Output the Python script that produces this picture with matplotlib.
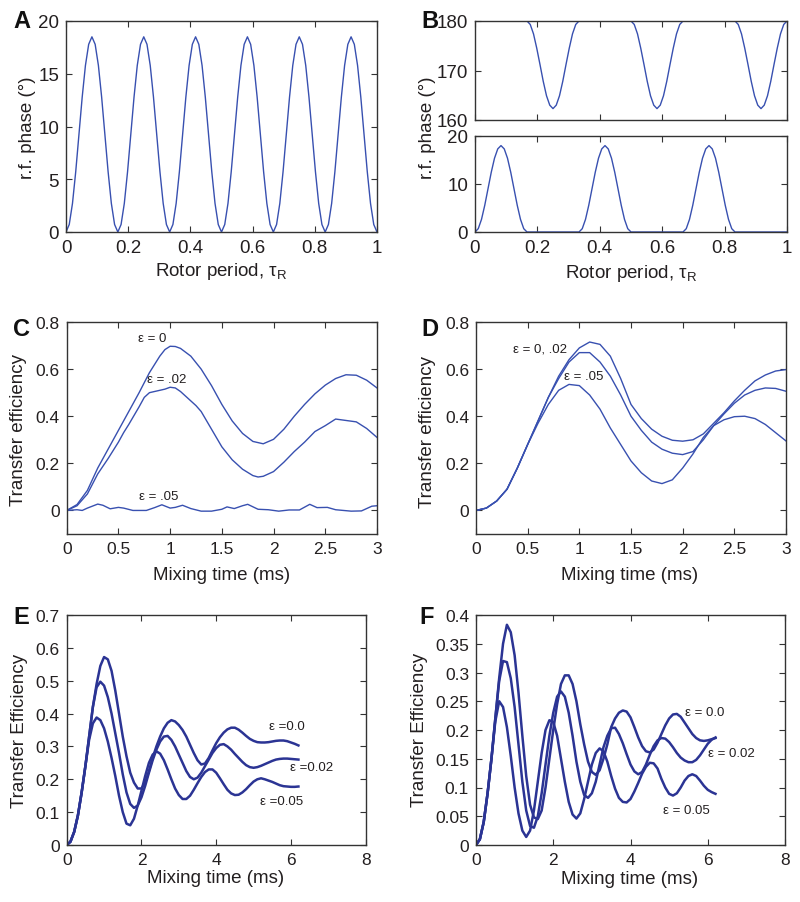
import numpy as np
import matplotlib
matplotlib.use("Agg")
import matplotlib.pyplot as plt
from matplotlib.ticker import FuncFormatter

plt.rcParams['font.family'] = ['Liberation Sans', 'DejaVu Sans']
plt.rcParams['mathtext.fontset'] = 'custom'
plt.rcParams['mathtext.rm'] = 'Liberation Sans'
plt.rcParams['mathtext.it'] = 'Liberation Sans:italic'

# ---------------- data ----------------
# Panel A: r.f. phase over one rotor period (16 samples per 1/6 period)
a_rotor = np.linspace(0, 1, 97)
a_phase = [0, 0.71, 2.71, 5.71, 9.25, 12.79, 15.79, 17.79, 18.5, 17.79, 15.79, 12.79, 9.25, 5.71, 2.71, 0.71,
           0, 0.71, 2.71, 5.71, 9.25, 12.79, 15.79, 17.79, 18.5, 17.79, 15.79, 12.79, 9.25, 5.71, 2.71, 0.71,
           0, 0.71, 2.71, 5.71, 9.25, 12.79, 15.79, 17.79, 18.5, 17.79, 15.79, 12.79, 9.25, 5.71, 2.71, 0.71,
           0, 0.71, 2.71, 5.71, 9.25, 12.79, 15.79, 17.79, 18.5, 17.79, 15.79, 12.79, 9.25, 5.71, 2.71, 0.71,
           0, 0.71, 2.71, 5.71, 9.25, 12.79, 15.79, 17.79, 18.5, 17.79, 15.79, 12.79, 9.25, 5.71, 2.71, 0.71,
           0, 0.71, 2.71, 5.71, 9.25, 12.79, 15.79, 17.79, 18.5, 17.79, 15.79, 12.79, 9.25, 5.71, 2.71, 0.71,
           0]

# Panel B: upper (near 180) and lower (near 0) phase branches
b_rotor = np.linspace(0, 1, 97)
b_upper = [180, 180, 180, 180, 180, 180, 180, 180, 180, 180, 180, 180, 180, 180, 180, 180,
           180, 179.3, 177.4, 174.5, 171.2, 167.8, 164.9, 163.0, 162.3, 163.0, 164.9, 167.8, 171.2, 174.5, 177.4, 179.3,
           180, 180, 180, 180, 180, 180, 180, 180, 180, 180, 180, 180, 180, 180, 180, 180,
           180, 179.3, 177.4, 174.5, 171.2, 167.8, 164.9, 163.0, 162.3, 163.0, 164.9, 167.8, 171.2, 174.5, 177.4, 179.3,
           180, 180, 180, 180, 180, 180, 180, 180, 180, 180, 180, 180, 180, 180, 180, 180,
           180, 179.3, 177.4, 174.5, 171.2, 167.8, 164.9, 163.0, 162.3, 163.0, 164.9, 167.8, 171.2, 174.5, 177.4, 179.3,
           180]
b_lower = [0, 0.69, 2.63, 5.56, 9.0, 12.44, 15.37, 17.31, 18.0, 17.31, 15.37, 12.44, 9.0, 5.56, 2.63, 0.69,
           0, 0, 0, 0, 0, 0, 0, 0, 0, 0, 0, 0, 0, 0, 0, 0,
           0, 0.69, 2.63, 5.56, 9.0, 12.44, 15.37, 17.31, 18.0, 17.31, 15.37, 12.44, 9.0, 5.56, 2.63, 0.69,
           0, 0, 0, 0, 0, 0, 0, 0, 0, 0, 0, 0, 0, 0, 0, 0,
           0, 0.69, 2.63, 5.56, 9.0, 12.44, 15.37, 17.31, 18.0, 17.31, 15.37, 12.44, 9.0, 5.56, 2.63, 0.69,
           0, 0, 0, 0, 0, 0, 0, 0, 0, 0, 0, 0, 0, 0, 0, 0,
           0]

# Panel C
c_t0 = [0, 0.1, 0.2, 0.3, 0.4, 0.5, 0.6, 0.7, 0.8, 0.9, 0.95, 1.0, 1.05, 1.1, 1.2, 1.3, 1.4, 1.5, 1.6, 1.7,
        1.8, 1.9, 2.0, 2.1, 2.2, 2.3, 2.4, 2.5, 2.6, 2.7, 2.8, 2.9, 3.0]
c_eps0 = [0, 0.025, 0.085, 0.18, 0.26, 0.34, 0.42, 0.50, 0.585, 0.655, 0.683, 0.697, 0.696, 0.688, 0.655,
          0.60, 0.53, 0.45, 0.38, 0.327, 0.293, 0.283, 0.302, 0.345, 0.4, 0.45, 0.495, 0.532, 0.56, 0.576,
          0.574, 0.553, 0.52]
c_t2 = [0, 0.1, 0.2, 0.3, 0.4, 0.5, 0.55, 0.6, 0.7, 0.75, 0.8, 0.9, 0.95, 1.0, 1.05, 1.1, 1.2, 1.25, 1.3,
        1.4, 1.5, 1.6, 1.7, 1.8, 1.85, 1.9, 2.0, 2.1, 2.2, 2.3, 2.4, 2.5, 2.6, 2.7, 2.8, 2.9, 3.0]
c_eps2 = [0, 0.02, 0.07, 0.155, 0.22, 0.29, 0.33, 0.365, 0.44, 0.48, 0.50, 0.51, 0.515, 0.523, 0.52, 0.505,
          0.465, 0.445, 0.42, 0.345, 0.27, 0.215, 0.175, 0.148, 0.142, 0.145, 0.165, 0.205, 0.25, 0.29,
          0.335, 0.36, 0.388, 0.382, 0.376, 0.348, 0.31]
c_t5 = [0, 0.1, 0.15, 0.2, 0.3, 0.35, 0.42, 0.5, 0.55, 0.64, 0.77, 0.85, 0.92, 1.0, 1.05, 1.12, 1.2, 1.3,
        1.4, 1.5, 1.55, 1.62, 1.7, 1.75, 1.85, 1.95, 2.05, 2.15, 2.25, 2.35, 2.42, 2.52, 2.6, 2.75, 2.85,
        2.95, 3.0]
c_eps5 = [0, 0.003, 0.0, 0.01, 0.027, 0.022, 0.007, 0.013, 0.01, 0.0, 0.0, 0.012, 0.024, 0.01, 0.013,
          0.022, 0.008, -0.003, -0.003, 0.005, 0.015, 0.008, 0.02, 0.026, 0.005, 0.003, -0.003, 0.002,
          0.002, 0.026, 0.012, 0.013, 0.003, -0.003, -0.002, 0.018, 0.02]

# Panel D
d_t = [0, 0.1, 0.2, 0.3, 0.4, 0.5, 0.6, 0.7, 0.8, 0.9, 1.0, 1.1, 1.2, 1.3, 1.4, 1.5, 1.6, 1.7, 1.8, 1.9,
       2.0, 2.1, 2.2, 2.3, 2.4, 2.5, 2.6, 2.7, 2.8, 2.9, 3.0]
d_eps0 = [0, 0.01, 0.04, 0.09, 0.18, 0.28, 0.38, 0.48, 0.57, 0.64, 0.69, 0.715, 0.705, 0.655, 0.56, 0.45,
          0.39, 0.345, 0.315, 0.298, 0.294, 0.30, 0.325, 0.37, 0.415, 0.465, 0.51, 0.55, 0.575, 0.592, 0.598]
d_eps2 = [0, 0.01, 0.04, 0.09, 0.18, 0.28, 0.38, 0.48, 0.56, 0.63, 0.67, 0.67, 0.63, 0.57, 0.49, 0.40,
          0.34, 0.29, 0.26, 0.243, 0.237, 0.25, 0.30, 0.36, 0.41, 0.455, 0.49, 0.51, 0.52, 0.518, 0.506]
d_eps5 = [0, 0.01, 0.04, 0.09, 0.18, 0.28, 0.37, 0.45, 0.51, 0.535, 0.53, 0.49, 0.43, 0.35, 0.28, 0.21,
          0.16, 0.125, 0.114, 0.13, 0.18, 0.24, 0.31, 0.36, 0.385, 0.398, 0.40, 0.39, 0.365, 0.33, 0.295]

# Panel E
e_t = [0, 0.1, 0.2, 0.3, 0.4, 0.5, 0.6, 0.7, 0.8, 0.9, 1.0, 1.1, 1.2, 1.3, 1.4, 1.5, 1.6, 1.7, 1.8, 1.9,
       2.0, 2.1, 2.2, 2.3, 2.4, 2.5, 2.6, 2.7, 2.8, 2.9, 3.0, 3.1, 3.2, 3.3, 3.4, 3.5, 3.6, 3.7, 3.8, 3.9,
       4.0, 4.1, 4.2, 4.3, 4.4, 4.5, 4.6, 4.7, 4.8, 4.9, 5.0, 5.1, 5.2, 5.3, 5.4, 5.5, 5.6, 5.7, 5.8, 5.9,
       6.0, 6.1, 6.2]
e_eps0 = [0, 0.01, 0.04, 0.09, 0.16, 0.24, 0.33, 0.42, 0.49, 0.545, 0.572, 0.565, 0.53, 0.47, 0.40, 0.33,
          0.27, 0.22, 0.19, 0.172, 0.172, 0.19, 0.225, 0.265, 0.30, 0.33, 0.355, 0.372, 0.38, 0.376, 0.365,
          0.35, 0.33, 0.305, 0.28, 0.258, 0.245, 0.248, 0.265, 0.288, 0.31, 0.328, 0.342, 0.352, 0.357,
          0.357, 0.351, 0.342, 0.332, 0.323, 0.317, 0.313, 0.312, 0.312, 0.313, 0.315, 0.317, 0.318, 0.318,
          0.316, 0.312, 0.308, 0.303]
e_eps2 = [0, 0.01, 0.04, 0.09, 0.16, 0.24, 0.33, 0.42, 0.48, 0.497, 0.485, 0.45, 0.40, 0.34, 0.28, 0.215,
          0.16, 0.125, 0.113, 0.12, 0.145, 0.18, 0.22, 0.258, 0.29, 0.315, 0.33, 0.332, 0.32, 0.30, 0.275,
          0.25, 0.225, 0.207, 0.20, 0.205, 0.22, 0.24, 0.26, 0.28, 0.295, 0.305, 0.307, 0.30, 0.29, 0.277,
          0.265, 0.253, 0.243, 0.237, 0.235, 0.237, 0.241, 0.246, 0.251, 0.256, 0.26, 0.262, 0.263, 0.263,
          0.262, 0.261, 0.26]
e_eps5 = [0, 0.01, 0.04, 0.09, 0.16, 0.24, 0.32, 0.37, 0.388, 0.38, 0.355, 0.315, 0.265, 0.21, 0.15, 0.10,
          0.065, 0.06, 0.08, 0.12, 0.165, 0.21, 0.25, 0.275, 0.285, 0.278, 0.258, 0.23, 0.20, 0.172, 0.152,
          0.14, 0.14, 0.15, 0.168, 0.188, 0.207, 0.222, 0.23, 0.23, 0.22, 0.203, 0.185, 0.168, 0.157, 0.152,
          0.153, 0.16, 0.17, 0.182, 0.193, 0.20, 0.203, 0.20, 0.196, 0.192, 0.187, 0.182, 0.179, 0.178,
          0.177, 0.177, 0.178]

# Panel F
f_t = [0, 0.1, 0.2, 0.3, 0.4, 0.5, 0.6, 0.7, 0.8, 0.9, 1.0, 1.1, 1.2, 1.3, 1.4, 1.5, 1.6, 1.7, 1.8, 1.9,
       2.0, 2.1, 2.2, 2.3, 2.4, 2.5, 2.6, 2.7, 2.8, 2.9, 3.0, 3.1, 3.2, 3.3, 3.4, 3.5, 3.6, 3.7, 3.8, 3.9,
       4.0, 4.1, 4.2, 4.3, 4.4, 4.5, 4.6, 4.7, 4.8, 4.9, 5.0, 5.1, 5.2, 5.3, 5.4, 5.5, 5.6, 5.7, 5.8, 5.9,
       6.0, 6.1, 6.2]
f_eps0 = [0, 0.01, 0.04, 0.09, 0.15, 0.22, 0.29, 0.35, 0.383, 0.37, 0.33, 0.265, 0.19, 0.12, 0.07, 0.048,
          0.045, 0.06, 0.10, 0.15, 0.20, 0.245, 0.28, 0.295, 0.295, 0.28, 0.25, 0.21, 0.175, 0.145, 0.127,
          0.122, 0.13, 0.15, 0.175, 0.205, 0.22, 0.23, 0.234, 0.232, 0.222, 0.205, 0.187, 0.172, 0.163,
          0.161, 0.166, 0.178, 0.193, 0.208, 0.22, 0.227, 0.228, 0.223, 0.213, 0.203, 0.193, 0.186, 0.182,
          0.181, 0.182, 0.184, 0.186]
f_eps2 = [0, 0.01, 0.04, 0.09, 0.15, 0.22, 0.285, 0.32, 0.318, 0.29, 0.24, 0.175, 0.11, 0.06, 0.033, 0.03,
          0.05, 0.09, 0.14, 0.19, 0.23, 0.258, 0.267, 0.258, 0.23, 0.19, 0.145, 0.11, 0.087, 0.082, 0.09,
          0.11, 0.14, 0.17, 0.19, 0.203, 0.204, 0.193, 0.177, 0.158, 0.14, 0.128, 0.123, 0.127, 0.14, 0.157,
          0.172, 0.182, 0.186, 0.185, 0.179, 0.17, 0.16, 0.152, 0.147, 0.144, 0.144, 0.148, 0.156, 0.166,
          0.176, 0.183, 0.187]
f_eps5 = [0, 0.01, 0.04, 0.09, 0.15, 0.215, 0.25, 0.24, 0.205, 0.155, 0.10, 0.055, 0.025, 0.014, 0.025,
          0.06, 0.11, 0.16, 0.20, 0.217, 0.214, 0.19, 0.15, 0.11, 0.075, 0.053, 0.046, 0.055, 0.08, 0.11,
          0.14, 0.16, 0.168, 0.163, 0.145, 0.12, 0.098, 0.082, 0.075, 0.074, 0.08, 0.093, 0.108, 0.124,
          0.136, 0.143, 0.142, 0.133, 0.115, 0.10, 0.089, 0.086, 0.09, 0.10, 0.112, 0.12, 0.123, 0.12,
          0.112, 0.103, 0.096, 0.092, 0.089]

# ---------------- figure ----------------
W, H = 800, 903
fig = plt.figure(figsize=(W / 100, H / 100), dpi=100)

def rect(l, t, r, b):
    return [l / W, 1 - b / H, (r - l) / W, (b - t) / H]

TXT = '#231f20'
THIN = '#3850b0'
THICK = '#2b3494'

fmt = FuncFormatter(lambda v, p: '%g' % round(v, 6))

def style(ax, xlim, ylim, xticks, yticks, labelsize=12.5, xlabels=True):
    ax.set_xlim(*xlim)
    ax.set_ylim(*ylim)
    ax.set_xticks(xticks)
    ax.set_yticks(yticks)
    ax.xaxis.set_major_formatter(fmt)
    ax.yaxis.set_major_formatter(fmt)
    ax.tick_params(direction='in', length=4, width=0.8, top=True, right=True,
                   labelsize=labelsize, pad=5, colors='#333333', labelcolor=TXT)
    if not xlabels:
        ax.tick_params(labelbottom=False)
    for s in ax.spines.values():
        s.set_linewidth(1.0)
        s.set_color('#333333')

def ftext(px, py, s, color=TXT, **kw):
    fig.text(px / W, 1 - py / H, s, ha='center', va='center', color=color, **kw)

# A
axA = fig.add_axes(rect(66, 22, 377, 233))
axA.plot(a_rotor, a_phase, color=THIN, lw=1.0)
style(axA, (0, 1), (0, 20), [0, 0.2, 0.4, 0.6, 0.8, 1], [0, 5, 10, 15, 20], labelsize=13.5)

# B
axB1 = fig.add_axes(rect(475, 22, 787, 121))
axB1.plot(b_rotor, b_upper, color=THIN, lw=1.0)
style(axB1, (0, 1), (160, 180), [0, 0.2, 0.4, 0.6, 0.8, 1], [160, 170, 180], labelsize=13.5, xlabels=False)
axB2 = fig.add_axes(rect(475, 137, 787, 233))
axB2.plot(b_rotor, b_lower, color=THIN, lw=1.0)
style(axB2, (0, 1), (0, 20), [0, 0.2, 0.4, 0.6, 0.8, 1], [0, 10, 20], labelsize=13.5)

# C
axC = fig.add_axes(rect(66.7, 323, 377, 535))
axC.plot(c_t0, c_eps0, color=THIN, lw=1.0)
axC.plot(c_t2, c_eps2, color=THIN, lw=1.0)
axC.plot(c_t5, c_eps5, color=THIN, lw=1.0)
style(axC, (0, 3), (-0.1, 0.8), [0, 0.5, 1, 1.5, 2, 2.5, 3], [0, 0.2, 0.4, 0.6, 0.8])
axC.text(0.83, 0.73, 'ε = 0', fontsize=9.5, color=TXT, ha='center', va='center')
axC.text(0.967, 0.56, 'ε = .02', fontsize=9.5, color=TXT, ha='center', va='center')
axC.text(0.886, 0.062, 'ε = .05', fontsize=9.5, color=TXT, ha='center', va='center')

# D
axD = fig.add_axes(rect(476, 323, 786, 535))
axD.plot(d_t, d_eps0, color=THIN, lw=1.0)
axD.plot(d_t, d_eps2, color=THIN, lw=1.0)
axD.plot(d_t, d_eps5, color=THIN, lw=1.0)
style(axD, (0, 3), (-0.1, 0.8), [0, 0.5, 1, 1.5, 2, 2.5, 3], [0, 0.2, 0.4, 0.6, 0.8])
axD.text(0.62, 0.687, 'ε = 0, .02', fontsize=9.5, color=TXT, ha='center', va='center')
axD.text(1.04, 0.571, 'ε = .05', fontsize=9.5, color=TXT, ha='center', va='center')

# E
axE = fig.add_axes(rect(66.7, 616, 365.7, 846))
axE.plot(e_t, e_eps0, color=THICK, lw=1.8)
axE.plot(e_t, e_eps2, color=THICK, lw=1.8)
axE.plot(e_t, e_eps5, color=THICK, lw=1.8)
style(axE, (0, 8), (0, 0.7), [0, 2, 4, 6, 8], [0, 0.1, 0.2, 0.3, 0.4, 0.5, 0.6, 0.7])
axE.text(5.9, 0.363, 'ε =0.0', fontsize=9.5, color=TXT, ha='center', va='center')
axE.text(6.56, 0.238, 'ε =0.02', fontsize=9.5, color=TXT, ha='center', va='center')
axE.text(5.75, 0.133, 'ε =0.05', fontsize=9.5, color=TXT, ha='center', va='center')

# F
axF = fig.add_axes(rect(476, 616, 785, 846))
axF.plot(f_t, f_eps0, color=THICK, lw=1.8)
axF.plot(f_t, f_eps2, color=THICK, lw=1.8)
axF.plot(f_t, f_eps5, color=THICK, lw=1.8)
style(axF, (0, 8), (0, 0.4), [0, 2, 4, 6, 8], [0, 0.05, 0.1, 0.15, 0.2, 0.25, 0.3, 0.35, 0.4])
axF.text(5.93, 0.231, 'ε = 0.0', fontsize=9.5, color=TXT, ha='center', va='center')
axF.text(6.62, 0.16, 'ε = 0.02', fontsize=9.5, color=TXT, ha='center', va='center')
axF.text(5.45, 0.06, 'ε = 0.05', fontsize=9.5, color=TXT, ha='center', va='center')

# axis labels
LS = 13.5
ftext(27, 128, 'r.f. phase (°)', rotation=90, fontsize=LS)
ftext(221, 272, r'Rotor period, τ$_{\mathrm{R}}$', fontsize=LS)
ftext(428, 128, 'r.f. phase (°)', rotation=90, fontsize=LS)
ftext(631, 273, r'Rotor period, τ$_{\mathrm{R}}$', fontsize=LS)
ftext(19, 430, 'Transfer efficiency', rotation=90, fontsize=LS)
ftext(222, 575, 'Mixing time (ms)', fontsize=LS)
ftext(428, 432, 'Transfer efficiency', rotation=90, fontsize=LS)
ftext(630, 575, 'Mixing time (ms)', fontsize=LS)
ftext(20, 731, 'Transfer Efficiency', rotation=90, fontsize=LS)
ftext(216, 879, 'Mixing time (ms)', fontsize=LS)
ftext(420, 730, 'Transfer Efficiency', rotation=90, fontsize=LS)
ftext(630, 880, 'Mixing time (ms)', fontsize=LS)

# panel letters
for (px, py, s) in [(22, 22, 'A'), (430, 21, 'B'), (21, 330, 'C'), (430, 330, 'D'), (21, 618, 'E'), (427, 618, 'F')]:
    ftext(px, py, s, color='#111111', fontsize=17, fontweight='bold')

fig.savefig('out.png', dpi=100)
